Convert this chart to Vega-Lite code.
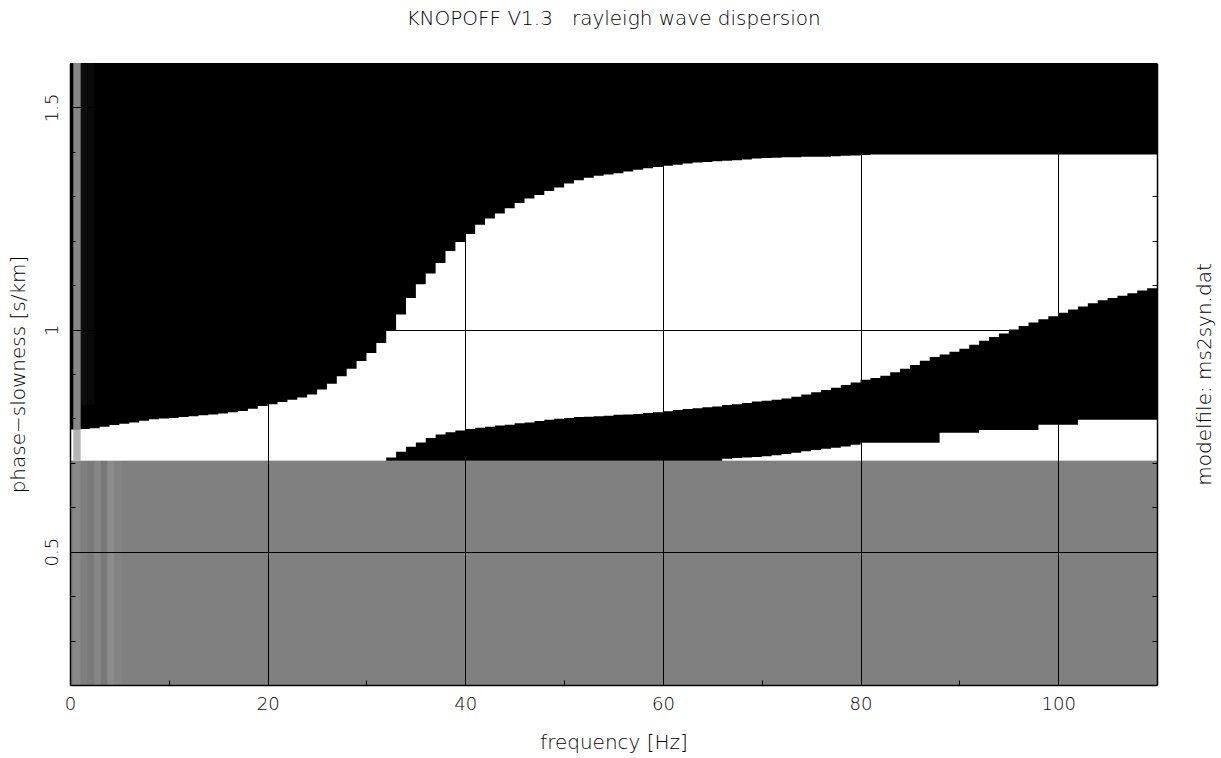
{
  "$schema": "https://vega.github.io/schema/vega-lite/v6.json",
  "width": 1087,
  "height": 622,
  "autosize": "none",
  "padding": {"left": 70, "top": 63, "right": 64, "bottom": 73},
  "background": "white",
  "title": {
    "text": "KNOPOFF V1.3\u00a0\u00a0\u00a0rayleigh wave dispersion",
    "font": "DejaVu Sans",
    "fontSize": 20,
    "fontWeight": 200,
    "color": "black",
    "anchor": "middle",
    "offset": 34
  },
  "datasets": {
    "cells": [
      {"f0": 0, "f1": 110, "s0": 0.705, "s1": 1.6, "shade": "#000000"},
      {"f0": 0, "f1": 110, "s0": 0.2, "s1": 0.705, "shade": "#808080"},
      {"f0": 0.33, "f1": 1.08, "s0": 0.2, "s1": 0.705, "shade": "#898989"},
      {"f0": 1.08, "f1": 1.75, "s0": 0.2, "s1": 0.705, "shade": "#7f7f7f"},
      {"f0": 1.75, "f1": 2.45, "s0": 0.2, "s1": 0.705, "shade": "#7a7a7a"},
      {"f0": 2.45, "f1": 3.13, "s0": 0.2, "s1": 0.705, "shade": "#868686"},
      {"f0": 3.13, "f1": 3.8, "s0": 0.2, "s1": 0.705, "shade": "#787878"},
      {"f0": 3.8, "f1": 4.5, "s0": 0.2, "s1": 0.705, "shade": "#8c8c8c"},
      {"f0": 4.5, "f1": 5.25, "s0": 0.2, "s1": 0.705, "shade": "#838383"},
      {"f0": 1.08, "f1": 1.75, "s0": 0.83, "s1": 1.6, "shade": "#0d0d0d"},
      {"f0": 1.75, "f1": 2.45, "s0": 0.83, "s1": 1.6, "shade": "#080808"}
    ],
    "edge": [
      {"f0": 0.33, "f1": 1.08, "s0": 0.705, "s1": 0.775, "shade": "#b4b4b4"},
      {"f0": 0.33, "f1": 1.08, "s0": 0.775, "s1": 1.6, "shade": "#878787"}
    ],
    "upper": [
      {"f": 0, "top": 0.775}, {"f": 1, "top": 0.776}, {"f": 2, "top": 0.778}, {"f": 3, "top": 0.781},
      {"f": 4, "top": 0.785}, {"f": 5, "top": 0.788}, {"f": 6, "top": 0.791}, {"f": 7, "top": 0.795},
      {"f": 8, "top": 0.798}, {"f": 9, "top": 0.8}, {"f": 10, "top": 0.801}, {"f": 11, "top": 0.803},
      {"f": 12, "top": 0.805}, {"f": 13, "top": 0.807}, {"f": 14, "top": 0.809}, {"f": 15, "top": 0.811},
      {"f": 16, "top": 0.814}, {"f": 17, "top": 0.817}, {"f": 18, "top": 0.822}, {"f": 19, "top": 0.828},
      {"f": 20, "top": 0.832}, {"f": 21, "top": 0.837}, {"f": 22, "top": 0.842}, {"f": 23, "top": 0.847},
      {"f": 24, "top": 0.854}, {"f": 25, "top": 0.865}, {"f": 26, "top": 0.878}, {"f": 27, "top": 0.895},
      {"f": 28, "top": 0.912}, {"f": 29, "top": 0.929}, {"f": 30, "top": 0.947}, {"f": 31, "top": 0.97},
      {"f": 32, "top": 0.998}, {"f": 33, "top": 1.034}, {"f": 34, "top": 1.071}, {"f": 35, "top": 1.102},
      {"f": 36, "top": 1.126}, {"f": 37, "top": 1.15}, {"f": 38, "top": 1.177}, {"f": 39, "top": 1.197},
      {"f": 40, "top": 1.215}, {"f": 41, "top": 1.236}, {"f": 42, "top": 1.25}, {"f": 43, "top": 1.261},
      {"f": 44, "top": 1.273}, {"f": 45, "top": 1.285}, {"f": 46, "top": 1.295}, {"f": 47, "top": 1.303},
      {"f": 48, "top": 1.312}, {"f": 49, "top": 1.32}, {"f": 50, "top": 1.329}, {"f": 51, "top": 1.336},
      {"f": 52, "top": 1.342}, {"f": 53, "top": 1.346}, {"f": 54, "top": 1.349}, {"f": 55, "top": 1.352},
      {"f": 56, "top": 1.356}, {"f": 57, "top": 1.36}, {"f": 58, "top": 1.363}, {"f": 59, "top": 1.366},
      {"f": 60, "top": 1.369}, {"f": 61, "top": 1.371}, {"f": 62, "top": 1.374}, {"f": 63, "top": 1.376},
      {"f": 64, "top": 1.377}, {"f": 65, "top": 1.379}, {"f": 66, "top": 1.38}, {"f": 67, "top": 1.381},
      {"f": 68, "top": 1.383}, {"f": 69, "top": 1.385}, {"f": 70, "top": 1.386}, {"f": 71, "top": 1.387},
      {"f": 72, "top": 1.388}, {"f": 73, "top": 1.388}, {"f": 74, "top": 1.389}, {"f": 75, "top": 1.389},
      {"f": 76, "top": 1.389}, {"f": 77, "top": 1.39}, {"f": 78, "top": 1.391}, {"f": 79, "top": 1.392},
      {"f": 80, "top": 1.393}, {"f": 81, "top": 1.394}, {"f": 90, "top": 1.394}, {"f": 100, "top": 1.394},
      {"f": 110, "top": 1.394}
    ],
    "band": [
      {"f": 32, "lo": 0.705, "hi": 0.712}, {"f": 33, "lo": 0.705, "hi": 0.725}, {"f": 34, "lo": 0.705, "hi": 0.736},
      {"f": 35, "lo": 0.705, "hi": 0.746}, {"f": 36, "lo": 0.705, "hi": 0.756}, {"f": 37, "lo": 0.705, "hi": 0.764},
      {"f": 38, "lo": 0.705, "hi": 0.769}, {"f": 39, "lo": 0.705, "hi": 0.773}, {"f": 40, "lo": 0.705, "hi": 0.776},
      {"f": 41, "lo": 0.705, "hi": 0.779}, {"f": 42, "lo": 0.705, "hi": 0.781}, {"f": 43, "lo": 0.705, "hi": 0.784},
      {"f": 44, "lo": 0.705, "hi": 0.786}, {"f": 45, "lo": 0.705, "hi": 0.789}, {"f": 46, "lo": 0.705, "hi": 0.791},
      {"f": 47, "lo": 0.705, "hi": 0.794}, {"f": 48, "lo": 0.705, "hi": 0.797}, {"f": 49, "lo": 0.705, "hi": 0.799},
      {"f": 50, "lo": 0.705, "hi": 0.801}, {"f": 51, "lo": 0.705, "hi": 0.803}, {"f": 52, "lo": 0.705, "hi": 0.804},
      {"f": 53, "lo": 0.705, "hi": 0.805}, {"f": 54, "lo": 0.705, "hi": 0.806}, {"f": 55, "lo": 0.705, "hi": 0.808},
      {"f": 56, "lo": 0.705, "hi": 0.809}, {"f": 57, "lo": 0.705, "hi": 0.81}, {"f": 58, "lo": 0.705, "hi": 0.812},
      {"f": 59, "lo": 0.705, "hi": 0.814}, {"f": 60, "lo": 0.705, "hi": 0.816}, {"f": 61, "lo": 0.705, "hi": 0.819},
      {"f": 62, "lo": 0.705, "hi": 0.821}, {"f": 63, "lo": 0.705, "hi": 0.823}, {"f": 64, "lo": 0.705, "hi": 0.825},
      {"f": 65, "lo": 0.705, "hi": 0.827}, {"f": 66, "lo": 0.709, "hi": 0.83}, {"f": 67, "lo": 0.711, "hi": 0.832},
      {"f": 68, "lo": 0.712, "hi": 0.835}, {"f": 69, "lo": 0.713, "hi": 0.838}, {"f": 70, "lo": 0.715, "hi": 0.84},
      {"f": 71, "lo": 0.717, "hi": 0.842}, {"f": 72, "lo": 0.72, "hi": 0.845}, {"f": 73, "lo": 0.723, "hi": 0.849},
      {"f": 74, "lo": 0.726, "hi": 0.854}, {"f": 75, "lo": 0.729, "hi": 0.859}, {"f": 76, "lo": 0.732, "hi": 0.864},
      {"f": 77, "lo": 0.734, "hi": 0.869}, {"f": 78, "lo": 0.737, "hi": 0.875}, {"f": 79, "lo": 0.741, "hi": 0.881},
      {"f": 80, "lo": 0.745, "hi": 0.887}, {"f": 81, "lo": 0.745, "hi": 0.891}, {"f": 82, "lo": 0.745, "hi": 0.896},
      {"f": 83, "lo": 0.745, "hi": 0.904}, {"f": 84, "lo": 0.745, "hi": 0.912}, {"f": 85, "lo": 0.745, "hi": 0.92},
      {"f": 86, "lo": 0.745, "hi": 0.93}, {"f": 87, "lo": 0.745, "hi": 0.938}, {"f": 88, "lo": 0.768, "hi": 0.944},
      {"f": 89, "lo": 0.768, "hi": 0.95}, {"f": 90, "lo": 0.768, "hi": 0.957}, {"f": 91, "lo": 0.768, "hi": 0.966},
      {"f": 92, "lo": 0.774, "hi": 0.975}, {"f": 93, "lo": 0.774, "hi": 0.983}, {"f": 94, "lo": 0.774, "hi": 0.991},
      {"f": 95, "lo": 0.774, "hi": 1.0}, {"f": 96, "lo": 0.774, "hi": 1.008}, {"f": 97, "lo": 0.774, "hi": 1.016},
      {"f": 98, "lo": 0.786, "hi": 1.023}, {"f": 99, "lo": 0.786, "hi": 1.03}, {"f": 100, "lo": 0.786, "hi": 1.038},
      {"f": 101, "lo": 0.786, "hi": 1.045}, {"f": 102, "lo": 0.797, "hi": 1.052}, {"f": 103, "lo": 0.797, "hi": 1.059},
      {"f": 104, "lo": 0.797, "hi": 1.066}, {"f": 105, "lo": 0.797, "hi": 1.071}, {"f": 106, "lo": 0.797, "hi": 1.076},
      {"f": 107, "lo": 0.797, "hi": 1.082}, {"f": 108, "lo": 0.797, "hi": 1.088}, {"f": 109, "lo": 0.797, "hi": 1.093},
      {"f": 110, "lo": 0.797, "hi": 1.094}
    ]
  },
  "layer": [
    {
      "data": {"name": "cells"},
      "mark": {"type": "rect", "clip": true},
      "encoding": {
        "x": {
          "field": "f0",
          "type": "quantitative",
          "scale": {"domain": [0, 110], "nice": false, "zero": false},
          "axis": {
            "title": "frequency [Hz]",
            "values": [0, 10, 20, 30, 40, 50, 60, 70, 80, 90, 100, 110],
            "labelExpr": "datum.value % 20 === 0 && datum.value < 110 ? datum.label : ''",
            "labelFlush": false,
            "labelPadding": 15,
            "tickSize": -5,
            "titlePadding": 19,
            "grid": true,
            "gridColor": "black",
            "gridWidth": 1,
            "gridOpacity": {"condition": {"test": "datum.value % 20 === 0 && datum.value > 0 && datum.value < 110", "value": 1}, "value": 0},
            "zindex": 1
          }
        },
        "x2": {"field": "f1"},
        "y": {
          "field": "s0",
          "type": "quantitative",
          "scale": {"domain": [0.2, 1.6], "nice": false, "zero": false},
          "axis": {
            "title": "phase\u2212slowness [s/km]",
            "values": [0.3, 0.4, 0.5, 0.6, 0.7, 0.8, 0.9, 1.0, 1.1, 1.2, 1.3, 1.4, 1.5],
            "labelExpr": "abs(datum.value * 2 - round(datum.value * 2)) < 0.001 ? format(datum.value, '~g') : ''",
            "labelAngle": -90,
            "labelAlign": "center",
            "labelBaseline": "alphabetic",
            "labelPadding": 18,
            "tickSize": -5,
            "titlePadding": 15,
            "grid": true,
            "gridColor": "black",
            "gridWidth": 1,
            "gridOpacity": {"condition": {"test": "abs(datum.value * 2 - round(datum.value * 2)) < 0.001", "value": 1}, "value": 0},
            "zindex": 1
          }
        },
        "y2": {"field": "s1"},
        "color": {"field": "shade", "type": "nominal", "scale": null}
      }
    },
    {
      "data": {"name": "upper"},
      "mark": {"type": "area", "interpolate": "step-after", "color": "white", "clip": true},
      "encoding": {
        "x": {"field": "f", "type": "quantitative"},
        "y": {"field": "top", "type": "quantitative", "axis": null},
        "y2": {"datum": 0.705}
      }
    },
    {
      "data": {"name": "band"},
      "mark": {"type": "area", "interpolate": "step-after", "color": "black", "clip": true},
      "encoding": {
        "x": {"field": "f", "type": "quantitative"},
        "y": {"field": "hi", "type": "quantitative", "axis": null},
        "y2": {"field": "lo"}
      }
    },
    {
      "data": {"name": "edge"},
      "mark": {"type": "rect", "clip": true},
      "encoding": {
        "x": {"field": "f0", "type": "quantitative"},
        "x2": {"field": "f1"},
        "y": {
          "field": "s0",
          "type": "quantitative",
          "axis": {
            "orient": "right",
            "title": "modelfile: ms2syn.dat",
            "values": [0.3, 0.4, 0.5, 0.6, 0.7, 0.8, 0.9, 1.0, 1.1, 1.2, 1.3, 1.4, 1.5],
            "labels": false,
            "tickSize": -5,
            "grid": false,
            "titleAngle": -90,
            "titleBaseline": "top",
            "titlePadding": 37,
            "zindex": 1
          }
        },
        "y2": {"field": "s1"},
        "color": {"field": "shade", "type": "nominal", "scale": null}
      }
    }
  ],
  "resolve": {"axis": {"y": "independent"}},
  "config": {
    "view": {"stroke": null},
    "axis": {
      "domainColor": "black",
      "domainWidth": 1.5,
      "tickColor": "black",
      "tickWidth": 1,
      "labelColor": "black",
      "labelFont": "DejaVu Sans",
      "labelFontSize": 18,
      "labelFontWeight": 200,
      "titleColor": "black",
      "titleFont": "DejaVu Sans",
      "titleFontSize": 20,
      "titleFontWeight": 200
    }
  }
}
